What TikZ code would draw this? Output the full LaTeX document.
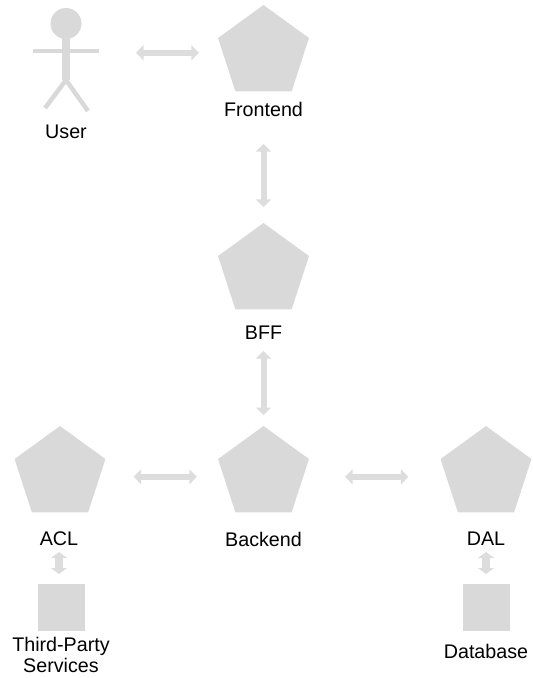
\documentclass[tikz,border=0pt]{standalone}
\usepackage{fontspec}
\setmainfont{Liberation Sans}
\usetikzlibrary{shapes.geometric,arrows.meta}
\definecolor{shapegray}{HTML}{D9D9D9}
\definecolor{arrowgray}{HTML}{DDDDDD}
\tikzset{
  pent/.style={regular polygon,regular polygon sides=5,minimum size=95.6pt,inner sep=0pt,outer sep=0pt,fill=shapegray},
  sq/.style={rectangle,minimum size=47pt,inner sep=0pt,outer sep=0pt,fill=shapegray},
  lbl/.style={inner sep=0pt,outer sep=0pt,text height=14pt,text depth=4pt,font=\fontsize{19.7}{21}\selectfont,text=black},
  biarrow/.style={draw=arrowgray,line width=6pt,{Triangle[length=7.5pt,width=15pt]}-{Triangle[length=7.5pt,width=15pt]}},
  limb/.style={draw=shapegray,line width=4.5pt},
}
\begin{document}
\begin{tikzpicture}[x=1pt,y=-1pt]
\useasboundingbox (0,0) rectangle (533,678);
% actor
\node[circle,fill=shapegray,minimum size=31pt,inner sep=0pt] (head) at (66,23.5) {};
\coordinate (hip) at (66,80);
\coordinate (neck) at (66,38);
\coordinate (armL) at (33,51);
\coordinate (armR) at (99,51);
\coordinate (legL) at (45,108);
\coordinate (legR) at (88,111);
\draw[draw=shapegray,line width=8pt] (neck) -- (hip);
\draw[limb] (armL) -- (armR);
\draw[limb] (legL) -- (hip) -- (legR);
\node[inner sep=0pt,outer sep=0pt,minimum width=66pt,minimum height=100pt] (user) at (66,52.8) {};
\node[lbl] (userl) at (66,133) {User};
% pentagons
\node[pent] (frontend) at (263.5,52.8) {};
\node[lbl] (frontendl) at (263.5,111) {Frontend};
\node[pent] (bff) at (263.5,270.8) {};
\node[lbl] (bffl) at (263.5,334) {BFF};
\node[pent] (backend) at (263.5,473.8) {};
\node[lbl] (backendl) at (263.5,541) {Backend};
\node[pent] (acl) at (60,473.8) {};
\node[lbl] (acll) at (59,540) {ACL};
\node[pent] (dal) at (486,473.8) {};
\node[lbl] (dall) at (486,540) {DAL};
\node[sq] (tps) at (61.5,607.5) {};
\node[sq] (db) at (486.5,607.5) {};
\node[lbl,align=center,text height=,text depth=] (tpsl) at (61,655) {Third-Party\\Services};
\node[lbl] (dbl) at (486,653) {Database};
% connectors
\draw[biarrow,shorten <=37pt,shorten >=24pt] (user.east) -- (frontend.west);
\draw[biarrow,shorten <=24pt,shorten >=16pt] (frontendl.south) -- (bff.north);
\draw[biarrow,shorten <=8pt,shorten >=11pt] (bffl.south) -- (backend.north);
\draw[biarrow,shorten <=33pt,shorten >=26pt] ([yshift=-3pt]acl.east) -- ([yshift=-3pt]backend.west);
\draw[biarrow,shorten <=41pt,shorten >=37pt] ([yshift=-3pt]backend.east) -- ([yshift=-3pt]dal.west);
\draw[biarrow,shorten <=3pt,shorten >=10pt,{Triangle[length=6pt,width=16pt]}-{Triangle[length=6pt,width=16pt]},line width=8pt] (acll.south) -- (acll.south |- tps.north);
\draw[biarrow,shorten <=3pt,shorten >=10pt,{Triangle[length=6pt,width=16pt]}-{Triangle[length=6pt,width=16pt]},line width=8pt] (dall.south) -- (dall.south |- db.north);
\end{tikzpicture}
\end{document}
